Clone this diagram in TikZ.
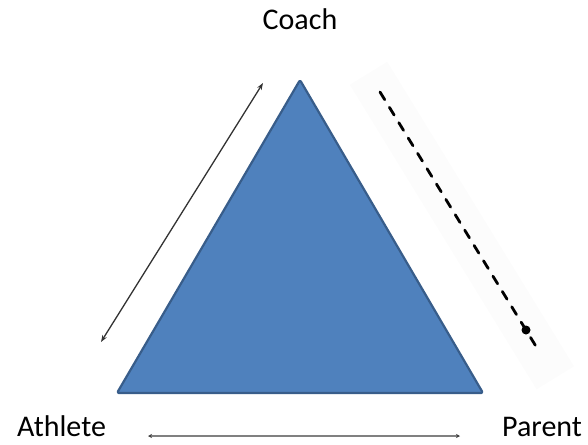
\documentclass[tikz,border=0pt]{standalone}
\usepackage{fontspec}
\setmainfont{Carlito}
\usepackage{tikz}
\usetikzlibrary{arrows.meta, calc}
\definecolor{trianglefill}{RGB}{79,129,189}
\definecolor{triangleedge}{RGB}{56,93,138}
\definecolor{bandfill}{RGB}{252,252,252}
\tikzset{
    rolelabel/.style={
        anchor=base,
        inner sep=0pt,
        font=\fontsize{30}{36}\selectfont
    },
    roleblock/.style={
        draw=triangleedge,
        line width=2.2pt,
        fill=trianglefill,
        line join=round,
        rounded corners=1.5pt
    },
    twoway/.style={
        draw=black!80,
        line width=1.3pt,
        {Stealth[length=7pt,width=5pt]}-{Stealth[length=7pt,width=5pt]}
    },
    oneway/.style={
        draw=black,
        line width=2.8pt,
        dash pattern=on 9pt off 9pt,
        line cap=round
    },
    flatlink/.style={
        draw=black!50,
        line width=2pt,
        {Stealth[length=4pt,width=4pt,black!75]}-{Stealth[length=4pt,width=4pt,black!75]}
    }
}

\begin{document}
\begin{tikzpicture}[x=1pt, y=-1pt]
\useasboundingbox (0,0) rectangle (588,444);

% Roles
\node[rolelabel] (coach) at (300,30) {Coach};
\node[rolelabel, anchor=base west] (athlete) at (17,436) {Athlete};
\node[rolelabel, anchor=base west] (parent) at (502,436) {Parent};

% Triangle
\coordinate (apex) at (300,80);
\coordinate (baseL) at (117,393);
\coordinate (baseR) at (483,393);
\path[roleblock] (apex) -- (baseR) -- (baseL) -- cycle;

% Coach <-> Athlete
\coordinate (ca-top) at (263,83);
\coordinate (ca-bot) at (101,342);
\draw[twoway] (ca-top) -- (ca-bot);

% Coach -> Parent, on a faint band
\coordinate (cp-top) at (380,92);
\coordinate (cp-bot) at (537,348);
\coordinate (cp-dot) at (526,330);
\fill[bandfill] ($(cp-top)!-22pt!(cp-bot)!22pt!90:(cp-bot)$) -- ($(cp-top)!-22pt!(cp-bot)!22pt!-90:(cp-bot)$)
    -- ($(cp-bot)!-35pt!(cp-top)!22pt!90:(cp-top)$) -- ($(cp-bot)!-35pt!(cp-top)!22pt!-90:(cp-top)$) -- cycle;
\draw[oneway] (cp-top) -- (cp-bot);
\fill[black] (cp-dot) circle (4.5pt);

% Athlete <-> Parent
\coordinate (ap-left) at (148,436);
\coordinate (ap-right) at (460,436);
\draw[flatlink] (ap-left) -- (ap-right);
\end{tikzpicture}
\end{document}
